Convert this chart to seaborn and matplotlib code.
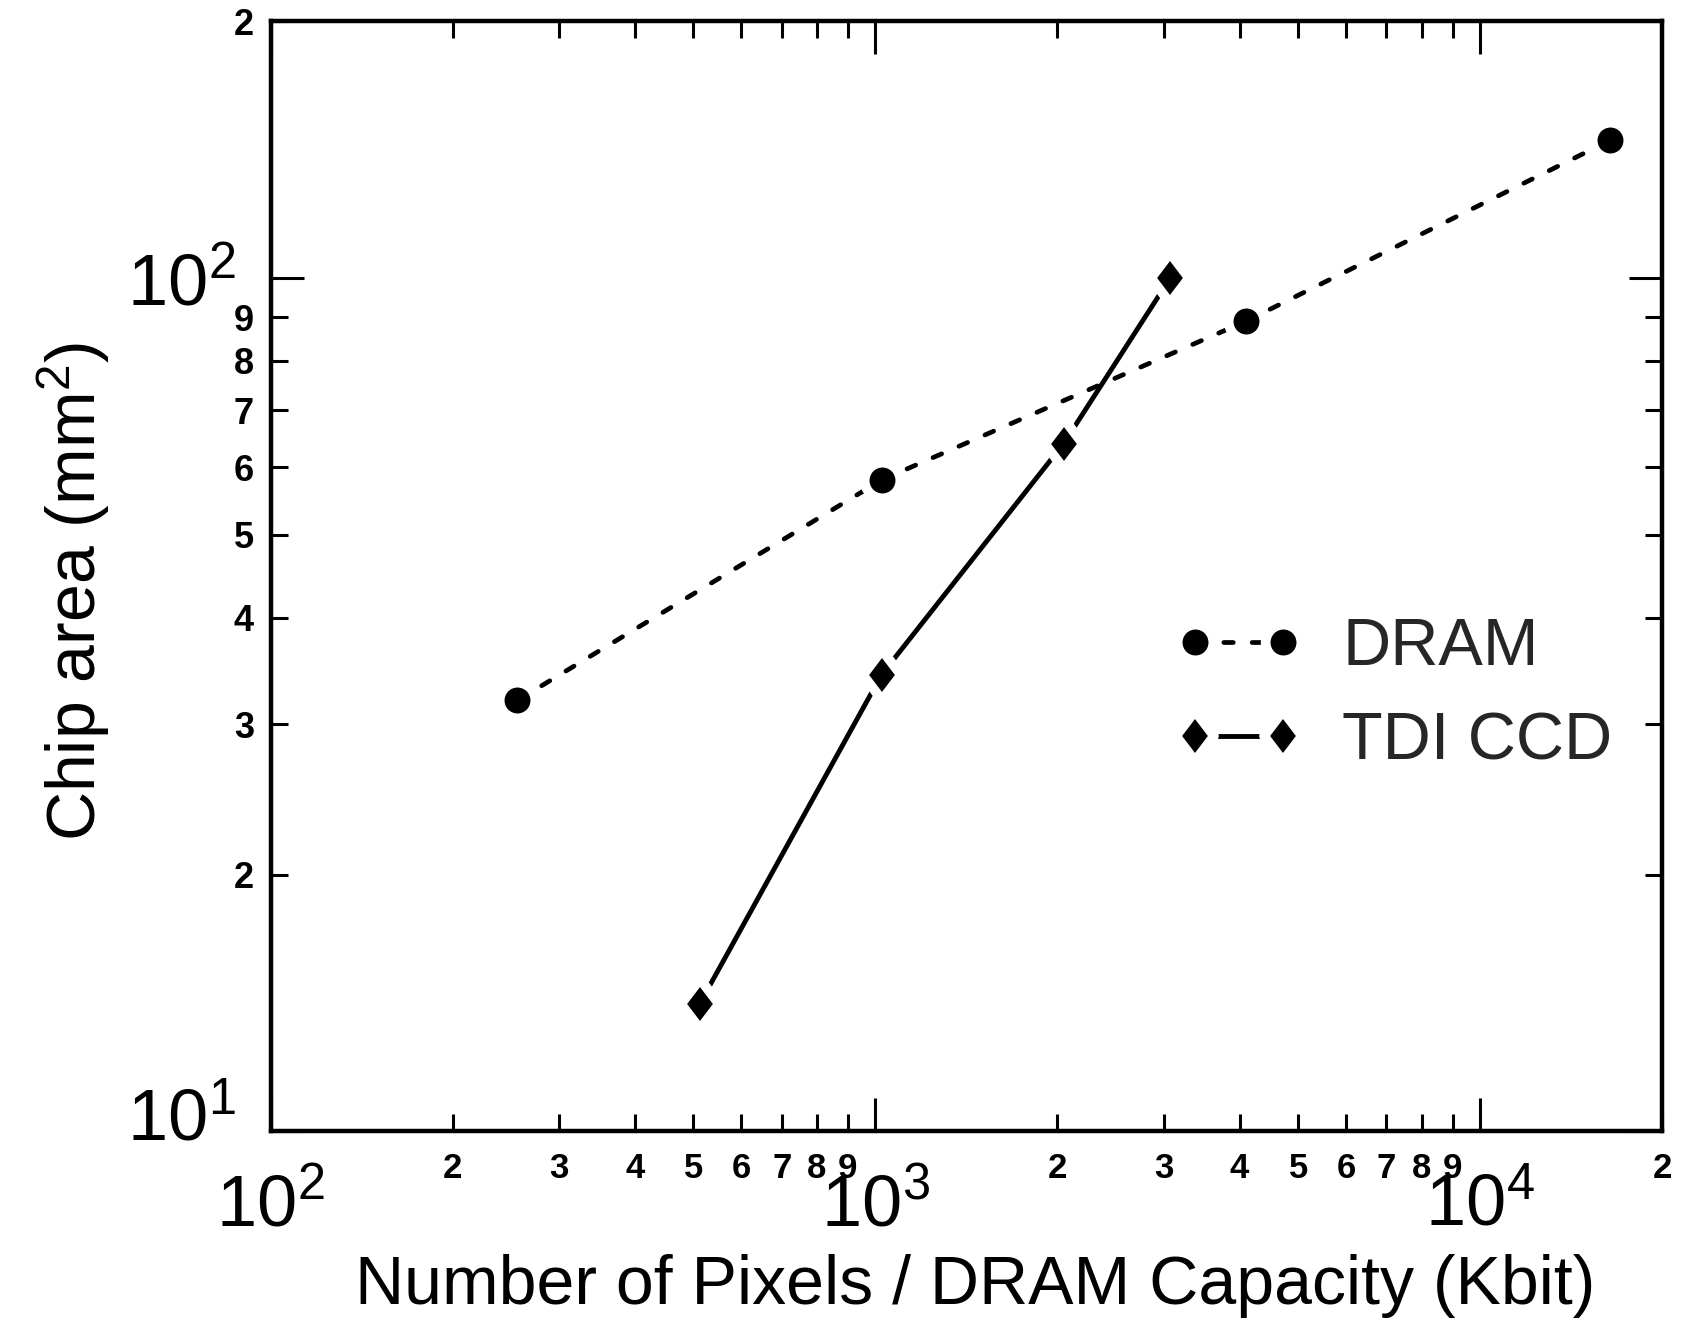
import matplotlib
matplotlib.use("Agg")
import matplotlib.pyplot as plt
import seaborn as sns
from matplotlib.lines import Line2D
from matplotlib.legend_handler import HandlerLine2D
from matplotlib.markers import MarkerStyle
from matplotlib.transforms import Affine2D, ScaledTranslation

# ---- data ----
dram_capacity_kbit = [256, 1024, 4096, 16384]
dram_area_mm2 = [32, 58, 89, 145]
tdi_pixels_k = [512, 1024, 2048, 3072]
tdi_area_mm2 = [14.1, 34.3, 64, 100]

x_major_ticks = [100, 1000, 10000]
x_major_labels = ["$10^2$", "$10^3$", "$10^4$"]
y_major_ticks = [10, 100]
y_major_labels = ["$10^1$", "$10^2$"]
digits = ["2", "3", "4", "5", "6", "7", "8", "9"]

sns.set_theme(style="ticks")
plt.rcParams["font.family"] = ["Liberation Sans", "DejaVu Sans"]
plt.rcParams["mathtext.fontset"] = "custom"
plt.rcParams["mathtext.rm"] = "Liberation Sans"
plt.rcParams["mathtext.it"] = "Liberation Sans:italic"
plt.rcParams["mathtext.bf"] = "Liberation Sans:bold"
plt.rcParams["mathtext.default"] = "regular"

fig = plt.figure(figsize=(16.91, 13.31), dpi=100)
fig.patch.set_facecolor("white")
ax = fig.add_axes([0.160, 0.150, 0.823, 0.834])
ax.set_facecolor("white")

diamond = MarkerStyle("D", transform=Affine2D().scale(0.76, 1.0), joinstyle="round")

sns.lineplot(x=dram_capacity_kbit, y=dram_area_mm2, ax=ax, color="black",
             lw=3.4, linestyle=(0, (2.0, 4.0)), dash_capstyle="round",
             marker="o", ms=25.7, mfc="black", mec="white", mew=7,
             label="DRAM", legend=False)
sns.lineplot(x=tdi_pixels_k, y=tdi_area_mm2, ax=ax, color="black",
             lw=3.5, linestyle="-", solid_capstyle="round",
             marker=diamond, ms=25, mfc="black", mec="white", mew=7,
             label="TDI CCD", legend=False)

ax.set_xscale("log")
ax.set_yscale("log")
ax.set_xlim(100, 20000)
ax.set_ylim(10, 200)

x_minor = [d * m for m in (100, 1000) for d in range(2, 10)] + [20000]
x_minor_labels = digits + digits + ["2"]
y_minor = [d * 10 for d in range(2, 10)] + [200]
y_minor_labels = digits + ["2"]

ax.set_xticks(x_major_ticks, labels=x_major_labels)
ax.set_xticks(x_minor, labels=x_minor_labels, minor=True, fontweight="bold")
ax.set_yticks(y_major_ticks, labels=y_major_labels)
ax.set_yticks(y_minor, labels=y_minor_labels, minor=True, fontweight="bold")

ax.tick_params(which="both", direction="in", top=True, right=True,
               width=2.2, color="black", labelcolor="black")
ax.tick_params(which="major", length=24)
ax.tick_params(which="minor", length=12)
ax.tick_params(axis="x", which="major", labelsize=52, pad=30)
ax.tick_params(axis="x", which="minor", labelsize=25, pad=15)
ax.tick_params(axis="y", which="major", labelsize=52, pad=25)
ax.tick_params(axis="y", which="minor", labelsize=26, pad=12)

# the 10^1 label sits a little above its tick in the reference
lbl = ax.yaxis.get_major_ticks()[0].label1
lbl.set_transform(lbl.get_transform() + ScaledTranslation(0, 12 / 72, fig.dpi_scale_trans))

for s in ax.spines.values():
    s.set_linewidth(3.2)
    s.set_color("black")

ax.set_xlabel("Number of Pixels / DRAM Capacity (Kbit)", fontsize=49,
              color="black", va="center")
ax.xaxis.set_label_coords(0.506, -0.139)
ax.set_ylabel("Chip area (mm$^2$)", fontsize=49, color="black", va="center")
ax.yaxis.set_label_coords(-0.1415, 0.486)

handles = ax.get_lines()[:2]
ax.legend(handles=handles, labels=["DRAM", "TDI CCD"], loc="center left",
          bbox_to_anchor=(0.7067, 0.4778), bbox_transform=fig.transFigure,
          frameon=False, fontsize=48, handlelength=1.32, handletextpad=0.89,
          labelspacing=0.48, borderpad=0, borderaxespad=0,
          handler_map={Line2D: HandlerLine2D(numpoints=2, marker_pad=0)})

fig.savefig("out.png", dpi=100, facecolor="white")
